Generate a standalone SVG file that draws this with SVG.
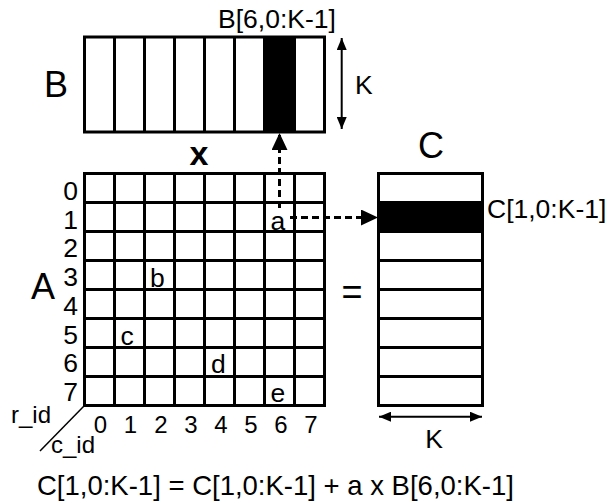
<svg xmlns="http://www.w3.org/2000/svg" width="609" height="503" viewBox="0 0 609 503">
<style>
text{font-family:"Liberation Sans",Arial,sans-serif;fill:#000}
.t{font-size:26.5px}
.big{font-size:36px}
.n{font-size:24px}
.g{stroke:#000;stroke-width:3;fill:none}
.thin{stroke:#000;stroke-width:2;fill:none}
.dash{stroke:#000;stroke-width:3;fill:none;stroke-dasharray:7 4}
</style>
<defs>
<marker id="ah" markerUnits="userSpaceOnUse" markerWidth="12" markerHeight="10" refX="12" refY="5" orient="auto-start-reverse" viewBox="0 0 12 10">
<path d="M0,0 L12,5 L0,10 Z" fill="#000"/>
</marker>
<marker id="dh" markerUnits="userSpaceOnUse" markerWidth="17" markerHeight="16" refX="17" refY="8" orient="auto" viewBox="0 0 17 16">
<path d="M0,0 L17,8 L0,16 Z" fill="#000"/>
</marker>
</defs>
<g id="matrixB">
<rect x="264.5" y="37" width="30" height="95" fill="#000"/>
<rect class="g" x="84.5" y="37" width="240" height="95"/>
<path class="g" d="M114.5,37V132M144.5,37V132M174.5,37V132M204.5,37V132M234.5,37V132M264.5,37V132M294.5,37V132"/>
<text class="big" x="44" y="97">B</text>
<text class="t" x="218" y="28">B[6,0:K-1]</text>
<text class="t" x="355" y="94">K</text>
</g>
<text id="times" x="199" y="165" font-size="34" font-weight="bold" text-anchor="middle">x</text>
<g id="matrixA">
<rect class="g" x="84.5" y="173.5" width="240" height="232"/>
<path class="g" d="M114.5,173.5V405.5M144.5,173.5V405.5M174.5,173.5V405.5M204.5,173.5V405.5M234.5,173.5V405.5M264.5,173.5V405.5M294.5,173.5V405.5M84.5,202.5H324.5M84.5,231.5H324.5M84.5,260.5H324.5M84.5,289.5H324.5M84.5,318.5H324.5M84.5,347.5H324.5M84.5,376.5H324.5"/>
<text class="big" x="31" y="299">A</text>
<g class="t" text-anchor="middle">
<text x="70.5" y="200">0</text>
<text x="70.5" y="228.7">1</text>
<text x="70.5" y="257.4">2</text>
<text x="70.5" y="286.1">3</text>
<text x="70.5" y="314.8">4</text>
<text x="70.5" y="343.5">5</text>
<text x="70.5" y="372.2">6</text>
<text x="70.5" y="400.9">7</text>
</g>
<g class="n" text-anchor="middle">
<text x="100.5" y="433">0</text>
<text x="130.5" y="433">1</text>
<text x="161" y="433">2</text>
<text x="191" y="433">3</text>
<text x="221" y="433">4</text>
<text x="251" y="433">5</text>
<text x="281" y="433">6</text>
<text x="311" y="433">7</text>
</g>
<g class="t">
<text x="270.5" y="230">a</text>
<text x="150" y="287">b</text>
<text x="120.5" y="345">c</text>
<text x="211" y="373">d</text>
<text x="270.5" y="401.5">e</text>
</g>
<line x1="84" y1="406" x2="40" y2="451" stroke="#000" stroke-width="1.5"/>
<text class="n" x="11" y="423">r_id</text>
<text class="n" x="51" y="453">c_id</text>
</g>
<text id="equals" class="big" x="352" y="304" text-anchor="middle">=</text>
<g id="matrixC">
<rect x="378" y="202.5" width="105" height="29" fill="#000"/>
<rect class="g" x="378.5" y="173.5" width="104" height="232"/>
<path class="g" d="M378.5,202.5H482.5M378.5,231.5H482.5M378.5,260.5H482.5M378.5,289.5H482.5M378.5,318.5H482.5M378.5,347.5H482.5M378.5,376.5H482.5"/>
<text class="big" x="431" y="158" text-anchor="middle">C</text>
<text class="t" x="487" y="218">C[1,0:K-1]</text>
<text class="t" x="434" y="448" text-anchor="middle">K</text>
</g>
<g id="connectors">
<line class="thin" x1="341.7" y1="38" x2="341.7" y2="129" marker-start="url(#ah)" marker-end="url(#ah)"/>
<line class="thin" x1="379" y1="416.7" x2="482" y2="416.7" marker-start="url(#ah)" marker-end="url(#ah)"/>
<line class="dash" x1="279.5" y1="208" x2="279.5" y2="133" marker-end="url(#dh)"/>
<line class="dash" x1="290" y1="217.5" x2="378" y2="217.5" marker-end="url(#dh)"/>
</g>
<text id="equation" x="37" y="495" font-size="27.5">C[1,0:K-1] = C[1,0:K-1] + a x B[6,0:K-1]</text>
</svg>
